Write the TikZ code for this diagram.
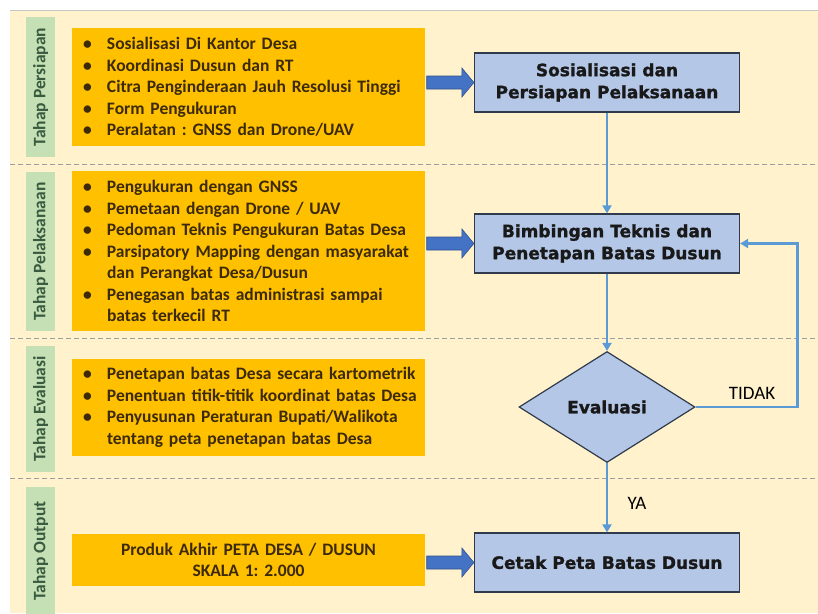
\documentclass[tikz,border=0pt]{standalone}
\usepackage{fontspec}
\setmainfont{Carlito}
\newfontfamily\dvb{DejaVu Sans}[BoldFeatures={FakeBold=1.3}]
\usetikzlibrary{arrows.meta,calc,shapes.geometric}
\definecolor{cream}{HTML}{FFF2CC}
\definecolor{orangeC}{HTML}{FFC000}
\definecolor{greenbar}{HTML}{C5E0B4}
\definecolor{greentext}{HTML}{3A5A40}
\definecolor{bluefill}{HTML}{B4C7E7}
\definecolor{blueedge}{HTML}{2F3B4C}
\definecolor{connC}{HTML}{5B9BD5}
\definecolor{fatfill}{HTML}{4472C4}
\definecolor{fatedge}{HTML}{2F528F}
\definecolor{browntext}{HTML}{3C2A0A}
\frenchspacing
\newcommand{\bl}{\hspace*{7pt}\makebox[24pt][l]{\textbullet}}
\newcommand{\ind}{\hspace*{31pt}}
\newcommand{\fatarr}[2]{%
  \filldraw[fill=fatfill,draw=fatedge,line width=0.6pt]
   ($(#1.east|-#2.west)+(1.5,-6.5)$) -- ($(#2.west)+(-12,-6.5)$) -- ($(#2.west)+(-12,-14.5)$)
   -- (#2.west) -- ($(#2.west)+(-12,14.5)$) -- ($(#2.west)+(-12,6.5)$)
   -- ($(#1.east|-#2.west)+(1.5,6.5)$) -- cycle;}
\begin{document}
\begin{tikzpicture}[x=1pt,y=-1pt,
  orangebox/.style={fill=orangeC, minimum width=353pt, text width=345pt, inner xsep=4pt,
    align=left, text=browntext, font=\fontsize{17.5}{21.5}\selectfont\bfseries\frenchspacing},
  phasebar/.style={fill=greenbar, rotate=90, minimum height=29pt, inner sep=0pt,
    text=greentext, font=\fontsize{17.5}{20}\selectfont\bfseries},
  bluebox/.style={fill=bluefill, draw=blueedge, line width=1.2pt, minimum width=265pt,
    minimum height=59pt, align=center, text=black!90, font=\dvb\bfseries\fontsize{17}{22}\selectfont},
  conn/.style={draw=connC, line width=2.5pt, -{Triangle[length=8pt,width=9pt]}},
  sep/.style={draw=gray!75, line width=0.8pt, dash pattern=on 5pt off 3pt},
  lbl/.style={font=\fontsize{19}{22}\selectfont, text=black}
]
\useasboundingbox (0,0) rectangle (818,613);
\fill[cream] (10,10) rectangle (818,613);
\draw[gray!45, line width=1pt] (10,10) -- (818,10);

% separators
\draw[sep] (10,164) -- (818,164);
\draw[sep] (10,338) -- (818,338);
\draw[sep] (10,478) -- (818,478);

% phase bars
\node[phasebar, minimum width=140pt] (g1) at (40.5,87) {Tahap Persiapan};
\node[phasebar, minimum width=159pt] (g2) at (40.5,251.5) {Tahap Pelaksanaan};
\node[phasebar, minimum width=126pt] (g3) at (40.5,409) {Tahap Evaluasi};
\node[phasebar, minimum width=128pt] (g4) at (40.5,551) {Tahap Output};

% orange boxes
\node[orangebox, minimum height=118pt] (o1) at (248.5,87) {%
\bl Sosialisasi Di Kantor Desa\\
\bl Koordinasi Dusun dan RT\\
\bl Citra Penginderaan Jauh Resolusi Tinggi\\
\bl Form Pengukuran\\
\bl Peralatan : GNSS dan Drone/UAV};
\node[orangebox, minimum height=160pt] (o2) at (248.5,251) {%
\bl Pengukuran dengan GNSS\\
\bl Pemetaan dengan Drone / UAV\\
\bl Pedoman Teknis Pengukuran Batas Desa\\
\bl Parsipatory Mapping dengan masyarakat\\
\ind dan Perangkat Desa/Dusun\\
\bl Penegasan batas administrasi sampai\\
\ind batas terkecil RT};
\node[orangebox, minimum height=97pt] (o3) at (248.5,407.5) {%
\bl Penetapan batas Desa secara kartometrik\\
\bl Penentuan titik-titik koordinat batas Desa\\
\bl Penyusunan Peraturan Bupati/Walikota\\
\ind tentang peta penetapan batas Desa};
\node[orangebox, minimum height=52pt, align=center] (o4) at (248.5,560) {%
Produk Akhir PETA DESA / DUSUN\\
SKALA 1: 2.000};

% blue boxes
\node[bluebox] (b1) at (607,82.5) {Sosialisasi dan\\Persiapan Pelaksanaan};
\node[bluebox] (b2) at (607,243.5) {Bimbingan Teknis dan\\Penetapan Batas Dusun};
\node[draw=blueedge, fill=bluefill, line width=1.2pt, diamond, minimum width=176pt,
  minimum height=111pt, inner sep=0pt, text=black!90, font=\dvb\bfseries\fontsize{17}{22}\selectfont] (ev) at (607,407) {Evaluasi};
\node[bluebox] (b4) at (607,562.5) {Cetak Peta Batas Dusun};

% fat arrows
\fatarr{o1}{b1}
\fatarr{o2}{b2}
\fatarr{o4}{b4}

% connectors
\draw[conn] (b1) -- (b2);
\draw[conn] (b2) -- (ev);
\draw[conn] (ev) -- (b4);
\draw[conn] (ev.east) -- ++(102,0) |- (b2.east);

% labels
\node[lbl] (tidak) at (752,393) {TIDAK};
\node[lbl] (ya) at (637,503) {YA};
\end{tikzpicture}
\end{document}
